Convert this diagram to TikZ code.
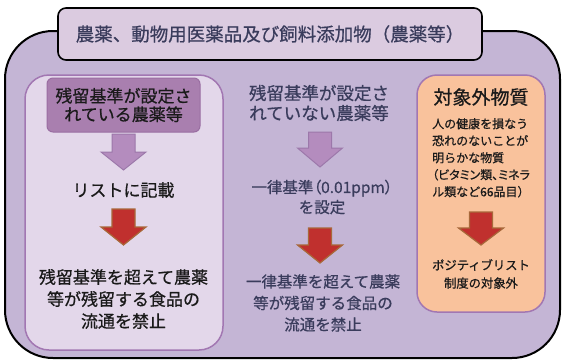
\documentclass[tikz,border=0pt]{standalone}
\usepackage{fontspec}
\setmainfont{Noto Sans CJK JP}[FakeBold=0.7]
\newfontfamily\jppalt{Noto Sans CJK JP}[RawFeature=+palt, FakeBold=0.7]
\definecolor{outerfill}{HTML}{C4B5D5}
\definecolor{titlefill}{HTML}{DBCBE0}
\definecolor{leftfill}{HTML}{E3D7EA}
\definecolor{boxborder}{HTML}{A277B2}
\definecolor{headfill}{HTML}{A97FAF}
\definecolor{headborder}{HTML}{9A6EA2}
\definecolor{peach}{HTML}{F9C29C}
\definecolor{navy}{HTML}{3A3C5C}
\definecolor{txtblack}{HTML}{1A1A1A}
\definecolor{parrowfill}{HTML}{B48CBE}
\definecolor{parrowline}{HTML}{9C78AA}
\definecolor{rarrowfill}{HTML}{C0302E}
\definecolor{rarrowline}{HTML}{A8683A}
\tikzset{
  outerbox/.style={fill=outerfill, draw=black, line width=2pt, rounded corners=48pt},
  titlebox/.style={fill=titlefill, draw=black, line width=1.6pt, rounded corners=8pt,
    minimum width=424pt, minimum height=52pt, inner sep=0pt, text=navy,
    font=\fontsize{18.5}{22}\selectfont},
  panel/.style={draw=boxborder, line width=1.5pt, rounded corners=24pt},
  headbox/.style={fill=headfill, draw=headborder, line width=1pt, rounded corners=6pt,
    minimum width=153pt, minimum height=54pt, inner sep=0pt, align=center, text=txtblack,
    font=\fontsize{17}{18.5}\selectfont},
  lefttext/.style={align=center, inner sep=0pt, text=txtblack},
  midtext/.style={align=center, inner sep=0pt, text=navy},
  righttext/.style={align=left, inner sep=0pt, text=txtblack},
  parrow/.style={fill=parrowfill, draw=parrowline, line width=1pt, line join=miter},
  rarrow/.style={fill=rarrowfill, draw=rarrowline, line width=1.2pt, line join=miter},
}
% block arrow: #1 centre x, #2 top y, #3 head start y, #4 tip y, #5 style
\newcommand{\blockarrow}[5]{%
  \draw[#5] (#1-11.5,#2) -- (#1+11.5,#2) -- (#1+11.5,#3) -- (#1+22.5,#3)
    -- (#1,#4) -- (#1-22.5,#3) -- (#1-11.5,#3) -- cycle;}
\begin{document}
\begin{tikzpicture}[x=1pt,y=-1pt]
\useasboundingbox (0,0) rectangle (562,360);
\begin{scope}
  \clip (0,0) rectangle (562,360);
  \draw[outerbox] (5,31) rectangle (560,358);
\end{scope}
\node[titlebox] (title) at (270,34) {農薬、動物用医薬品及び飼料添加物（農薬等）};
% left panel
\draw[panel, fill=leftfill] (25,75) rectangle (223,350);
\node[headbox] (lhead) at (123.5,105) {残留基準が設定さ\\れている農薬等};
\blockarrow{123.5}{134}{152}{170}{parrow}
\node[lefttext, font=\fontsize{17}{22}\selectfont] (l2) at (123.5,190) {リストに記載};
\blockarrow{123.5}{209}{227}{245}{rarrow}
\node[lefttext, font=\fontsize{17}{22}\selectfont] (l3) at (123.5,299)
  {残留基準を超えて農薬\\等が残留する食品の\\流通を禁止};
% middle column
\node[midtext, font=\fontsize{17.5}{20}\selectfont] (m1) at (319,103)
  {残留基準が設定さ\\れていない農薬等};
\blockarrow{320}{132}{148}{167}{parrow}
\node[midtext, font=\fontsize{15.5}{20}\selectfont] (m2) at (322,197)
  {一律基準{\jppalt （}0.01ppm{\jppalt ）}\\を設定};
\blockarrow{320}{228}{245}{263}{rarrow}
\node[midtext, font=\fontsize{15.5}{21.5}\selectfont] (m3) at (323,303)
  {一律基準を超えて農薬\\等が残留する食品の\\流通を禁止};
% right panel
\draw[panel, fill=peach, rounded corners=20pt] (417,75) rectangle (545,312);
\node[lefttext, font=\fontsize{19}{22}\selectfont] (rtitle) at (481,97) {対象外物質};
\node[righttext, font=\fontsize{12}{17}\selectfont, anchor=north west] (rtext) at (432,118)
  {人の健康を損なう\\恐れのないことが\\明らかな物質\\{\jppalt （ビタミン類、ミネラ}\\ル類など66品目）};
\blockarrow{481}{212}{228}{245}{rarrow}
\node[lefttext, font=\fontsize{12.3}{18}\selectfont] (r3) at (481,274)
  {ポジティブリスト\\制度の対象外};
\end{tikzpicture}
\end{document}
